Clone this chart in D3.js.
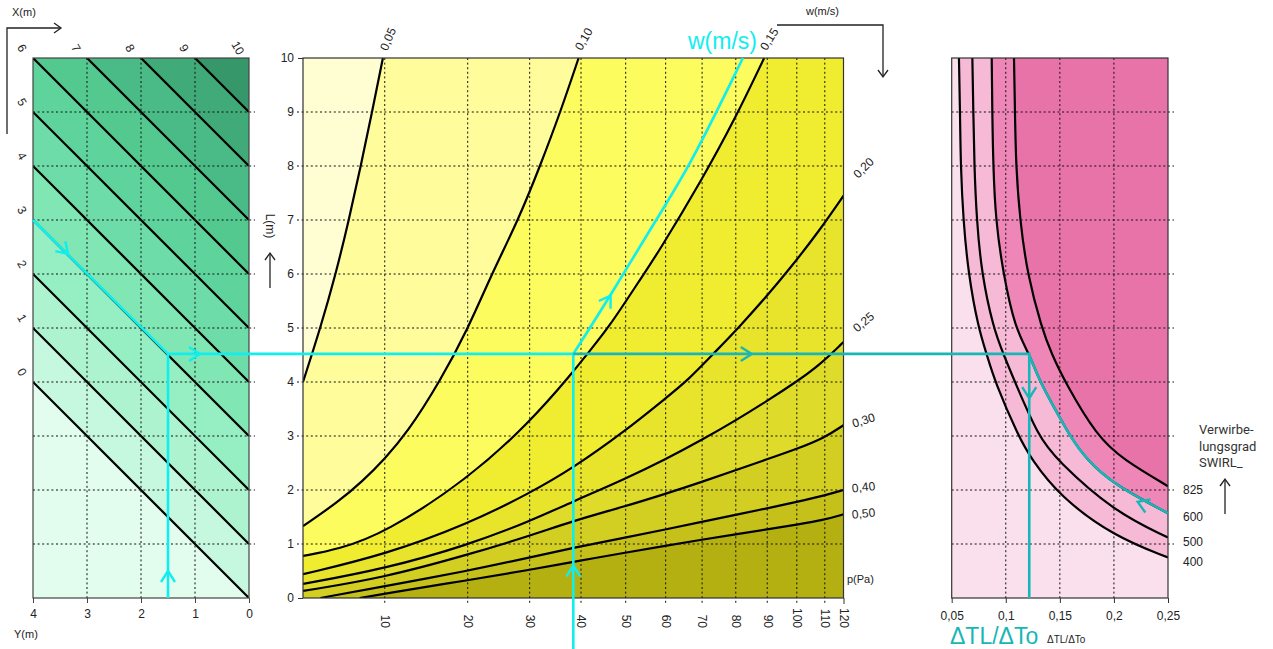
<!DOCTYPE html>
<html><head><meta charset="utf-8">
<script src="https://cdn.jsdelivr.net/npm/d3@7"></script>
<style>
body{margin:0;background:#fff}
text{font-family:"Liberation Sans",Arial,sans-serif;fill:#222}
</style>
</head><body>
<svg id="c" width="1273" height="649"></svg>
<script>
// ---------------- DATA ----------------
// left nomogram: diagonal lines X(m), with L = X + Y
const xLineValues = [0,1,2,3,4,5,6,7,8,9,10];
const xLineLabels = ["0","1","2","3","4","5","6","7","8","9","10"];
const yTicks = [4,3,2,1,0];
const lTicks = [0,1,2,3,4,5,6,7,8,9,10];
// middle nomogram: p(Pa) axis
const pTicks = [10,20,30,40,50,60,70,80,90,100,110,120];
// velocity curves w (m/s): [p, L] points
const wLabels = ["0,05","0,10","0,15","0,20","0,25","0,30","0,40","0,50"];
const w005 = [[3.7,4.0],[4.76,5],[5.82,6],[6.82,7],[7.8,8],[8.8,9],[9.82,10]];
const w010 = [[3.7,1.33],[6,1.78],[8,2.17],[10,2.58],[12.3,3.05],[16.2,4],[20.1,5],[23.6,6],[28,7],[31.9,8],[35.8,9],[39.5,10]];
const w015 = [[3.7,0.78],[6,0.9],[10,1.2],[20,2.2],[30,3.25],[38.4,4.19],[41.3,4.52],[46,5],[53.5,5.9],[58.1,6.4],[70,7.75],[80,8.9],[89,10]];
const w020 = [[3.7,0.44],[10,0.8],[20,1.37],[30,1.94],[38.4,2.41],[50,3.1],[60,3.7],[66.1,4.04],[73.2,4.52],[80.8,5],[90,5.6],[97.6,6.1],[108,6.8],[120,7.45]];
const w025 = [[3.7,0.26],[10,0.54],[20,0.98],[30,1.42],[38.4,1.79],[50,2.21],[60,2.57],[70,2.93],[80,3.29],[90,3.65],[100,4.01],[108,4.31],[120,4.74]];
const w030 = [[3.7,0.13],[10,0.38],[20,0.8],[30,1.15],[38.4,1.43],[50,1.7],[60,1.93],[70,2.15],[80,2.37],[90,2.57],[100,2.76],[110,2.97],[120,3.2]];
const w040 = [[4.76,0],[10,0.22],[20,0.5],[30,0.75],[38.4,0.93],[50,1.12],[60,1.27],[70,1.41],[80,1.54],[90,1.66],[100,1.78],[110,1.9],[120,2.0]];
const w050 = [[7.7,0],[10,0.08],[20,0.33],[30,0.52],[38.4,0.67],[50,0.84],[60,0.97],[70,1.08],[80,1.18],[90,1.27],[100,1.36],[110,1.45],[120,1.55]];
// right nomogram: swirl curves [ΔTL/ΔTo, L]
const rTicks = [0.05,0.10,0.15,0.20,0.25];
const rTickLabels = ["0,05","0,1","0,15","0,2","0,25"];
const swirlLabels = ["400","500","600","825"];
const s400 = [[0.0567,10],[0.0577,9],[0.0583,8],[0.0607,7],[0.0654,6],[0.0746,5],[0.0823,4.52],[0.090,4],[0.1116,3],[0.124,2.56],[0.15,1.88],[0.2,1.14],[0.25,0.75]];
const s500 = [[0.0691,10],[0.070,9],[0.0709,8],[0.0731,7],[0.0777,6],[0.0885,5],[0.0977,4.52],[0.1085,4],[0.130,3],[0.147,2.56],[0.2,1.6],[0.25,1.12]];
const s600 = [[0.087,10],[0.0875,9],[0.0884,8],[0.0906,7],[0.0977,6],[0.1085,5],[0.1217,4.52],[0.1316,4],[0.1455,3.5],[0.1593,3],[0.1748,2.56],[0.2,2.1],[0.25,1.57]];
const s825 = [[0.1076,10],[0.1085,9],[0.1094,8],[0.1131,7],[0.1199,6],[0.1332,5],[0.1424,4.52],[0.1547,4],[0.184,3],[0.2086,2.56],[0.25,2.07]];
// worked example
const exX = 3, exY = 1.5, exL = 4.52, exP = 38.4, exR = 0.1217;
const exW = [[38.4,4.52],[46.7,5.63],[57.1,6.96],[66.6,8],[82.2,10]];

(function(){
// ---------------- STYLE ----------------
const greens = ["#e2fcee","#c6f7df","#aef3d0","#96efc3","#80e6b4","#6edca8","#5fd39c","#53c990","#4abb86","#40aa79","#36976b"];
const yellows = ["#fffdd2","#fefc9b","#fdfc5e","#f0ed30","#e8e42c","#dedb2a","#d2ce22","#c6c11a","#b4b011"];
const pinks = ["#f9e0ec","#f6b9d6","#f6b9d6","#ee86b8","#e873a8"];
const labelAng = [-67,-60,-58,-45,-40,-18,-6,-6];
const labelDY  = [0,0,0,-28,-20,-5,-3,-1];
const CYAN = "#10eeee", TEAL = "#18b6b6";

const svg = d3.select("#c");
const Ls = d3.scaleLinear().domain([0,10]).range([598,58]);
const Ys = d3.scaleLinear().domain([4,0]).range([33,249]);
const Ps = d3.scalePow().exponent(0.45).domain([3.7,110,120]).range([303,824.8,843.5]);
const Rs = d3.scaleLinear().domain([0.05,0.25]).range([951.7,1168]);
const T0 = Ls(10), B0 = Ls(0);
const P0 = Ps.domain()[0], P1 = 120;

const defs = svg.append("defs");
function clip(id, x0, x1){
  defs.append("clipPath").attr("id",id).append("rect")
    .attr("x",x0).attr("y",T0).attr("width",x1-x0).attr("height",B0-T0);
}
clip("cl", Ys(4), Ys(0)); clip("cm", Ps(P0), Ps(P1)); clip("cr", Rs(0.05), Rs(0.25));
clip("ct", Rs(exR), Rs(0.25)+2);
function chevron(g, x, y, ang, col, w, len, half){
  g.append("path").attr("d",`M${-len},${-half}L0,0L${-len},${half}`)
   .attr("transform",`translate(${x},${y}) rotate(${ang})`)
   .attr("fill","none").attr("stroke",col).attr("stroke-width",w);
}
const dash = "2,2.6";

// ============ LEFT PANEL ============
const gl = svg.append("g").attr("clip-path","url(#cl)");
gl.append("rect").attr("x",Ys(4)).attr("y",T0).attr("width",Ys(0)-Ys(4)).attr("height",B0-T0).attr("fill",greens[0]);
xLineValues.slice(0,10).forEach((X,i)=>{
  const poly = [[-50,X-50],[50,X+50],[50,200],[-50,200]].map(d=>[Ys(d[0]),Ls(d[1])]);
  gl.append("path").attr("d","M"+poly.join("L")+"Z").attr("fill",greens[i+1]);
});
[3,2,1].forEach(y=>svg.append("line").attr("x1",Ys(y)).attr("x2",Ys(y)).attr("y1",T0).attr("y2",B0)
  .attr("stroke","#111").attr("stroke-width",1).attr("stroke-dasharray",dash));
lTicks.slice(1,10).forEach(l=>svg.append("line").attr("x1",Ys(4)).attr("x2",Ys(0)+6).attr("y1",Ls(l)).attr("y2",Ls(l))
  .attr("stroke","#111").attr("stroke-width",1).attr("stroke-dasharray",dash));
xLineValues.forEach(X=>{
  gl.append("line").attr("x1",Ys(4)).attr("y1",Ls(X+4)).attr("x2",Ys(0)).attr("y2",Ls(X))
    .attr("stroke","#000").attr("stroke-width",2.2);
});
svg.append("rect").attr("x",Ys(4)).attr("y",T0).attr("width",Ys(0)-Ys(4)).attr("height",B0-T0)
  .attr("fill","none").attr("stroke","#444").attr("stroke-width",1.2);
const axY = d3.axisBottom(Ys).tickValues(yTicks).tickSize(5).tickPadding(6).tickFormat(d3.format("d"));
const gAY = svg.append("g").attr("transform",`translate(0,${B0})`).call(axY);
gAY.select(".domain").remove();
gAY.selectAll("line").attr("stroke","#444");
gAY.selectAll("text").attr("font-size",12).attr("fill","#222").style("font-family","Liberation Sans, Arial");
xLineValues.forEach((X,i)=>{
  const px = X<=6 ? Ys(4) : Ys(10-X);
  const py = X<=6 ? Ls(X+4) : Ls(10);
  svg.append("text").attr("transform",`translate(${px-11},${py-10}) rotate(60)`)
    .attr("text-anchor","middle").attr("dy","0.35em").attr("font-size",12).text(xLineLabels[i]);
});
svg.append("text").attr("x",12).attr("y",16).attr("font-size",11).text("X(m)");
svg.append("text").attr("x",14).attr("y",638).attr("font-size",11).text("Y(m)");
svg.append("path").attr("d","M7,134V28H60").attr("fill","none").attr("stroke","#222").attr("stroke-width",1.3);
chevron(svg,61,28,0,"#222",1.3,7,5);

// ============ MIDDLE PANEL ============
const gm = svg.append("g").attr("clip-path","url(#cm)");
gm.append("rect").attr("x",Ps(P0)).attr("y",T0).attr("width",Ps(P1)-Ps(P0)).attr("height",B0-T0).attr("fill",yellows[0]);
const wCurves = [w005,w010,w015,w020,w025,w030,w040,w050];
const lineM = d3.line().x(d=>Ps(d[0])).y(d=>Ls(d[1])).curve(d3.curveBasis);
wCurves.forEach((c,i)=>{
  const s = c[0], e = c[c.length-1];
  const close = [[Ps(P1)+200,Ls(e[1])],[Ps(P1)+200,B0+50],[Ps(s[0]),B0+50]];
  gm.append("path").attr("d",lineM(c)+"L"+close.join("L")+"Z").attr("fill",yellows[i+1]);
});
pTicks.slice(0,11).forEach(p=>svg.append("line").attr("x1",Ps(p)).attr("x2",Ps(p)).attr("y1",T0).attr("y2",B0+6)
  .attr("stroke","#111").attr("stroke-width",1).attr("stroke-dasharray",dash));
lTicks.slice(1,10).forEach(l=>svg.append("line").attr("x1",Ps(P0)-6).attr("x2",Ps(P1)).attr("y1",Ls(l)).attr("y2",Ls(l))
  .attr("stroke","#111").attr("stroke-width",1).attr("stroke-dasharray",dash));
wCurves.forEach(c=>gm.append("path").attr("d",lineM(c)).attr("fill","none").attr("stroke","#000").attr("stroke-width",2.2));
svg.append("rect").attr("x",Ps(P0)).attr("y",T0).attr("width",Ps(P1)-Ps(P0)).attr("height",B0-T0)
  .attr("fill","none").attr("stroke","#333").attr("stroke-width",1.2);
const axL = d3.axisLeft(Ls).tickValues(lTicks).tickSize(5).tickPadding(4).tickFormat(d3.format("d"));
const gAL = svg.append("g").attr("transform",`translate(${Ps(P0)},0)`).call(axL);
gAL.select(".domain").remove();
gAL.selectAll("line").attr("stroke",(d)=> (d===0||d===10)?"#333":"none");
gAL.selectAll("text").attr("font-size",12).attr("fill","#222").style("font-family","Liberation Sans, Arial");
const axP = d3.axisBottom(Ps).tickValues(pTicks).tickSize(6).tickFormat(d3.format("d"));
const gAP = svg.append("g").attr("transform",`translate(0,${B0})`).call(axP);
gAP.select(".domain").remove();
gAP.selectAll("line").attr("stroke",(d)=> d===120?"#333":"none");
gAP.selectAll("text").attr("font-size",12).attr("fill","#222").style("font-family","Liberation Sans, Arial")
  .attr("text-anchor","end").attr("y",0).attr("dy","0.35em").attr("transform","translate(0,30) rotate(90)");
svg.append("text").attr("x",847).attr("y",583).attr("font-size",11).text("p(Pa)");
svg.append("text").attr("transform","translate(266,226) rotate(90)").attr("text-anchor","middle").attr("font-size",12).text("L(m)");
svg.append("line").attr("x1",270).attr("x2",270).attr("y1",288).attr("y2",254).attr("stroke","#222").attr("stroke-width",1.3);
chevron(svg,270,253,-90,"#222",1.3,7,5);
wCurves.forEach((c,i)=>{
  const e = c[c.length-1];
  const x = Ps(e[0]), y = Ls(e[1]);
  let cx, cy;
  if (e[1] >= 10) { cx = x+5; cy = y-19; }
  else { cx = Ps(P1)+20; cy = y+labelDY[i]; }
  svg.append("text").attr("transform",`translate(${cx},${cy}) rotate(${labelAng[i]})`)
    .attr("text-anchor","middle").attr("dy","0.35em").attr("font-size",12).text(wLabels[i]);
});
svg.append("text").attr("x",806).attr("y",15).attr("font-size",11).text("w(m/s)");
svg.append("path").attr("d","M777,25H883V76").attr("fill","none").attr("stroke","#222").attr("stroke-width",1.3);
chevron(svg,883,77,90,"#222",1.3,7,5);
svg.append("text").attr("x",688).attr("y",49).attr("font-size",23).style("fill",CYAN).text("w(m/s)");

// ============ RIGHT PANEL ============
const gr = svg.append("g").attr("clip-path","url(#cr)");
gr.append("rect").attr("x",Rs(0.05)).attr("y",T0).attr("width",Rs(0.25)-Rs(0.05)).attr("height",B0-T0).attr("fill",pinks[0]);
const sCurves = [s400,s500,s600,s825];
const lineR = d3.line().x(d=>Rs(d[0])).y(d=>Ls(d[1])).curve(d3.curveBasis);
sCurves.forEach((c,i)=>{
  const s = c[0], e = c[c.length-1];
  const close = [[Rs(0.25)+100,Ls(e[1])],[Rs(0.25)+100,T0-50],[Rs(s[0]),T0-50]];
  gr.append("path").attr("d",lineR(c)+"L"+close.join("L")+"Z").attr("fill",pinks[i+1]);
});
[0.10,0.15,0.20].forEach(r=>svg.append("line").attr("x1",Rs(r)).attr("x2",Rs(r)).attr("y1",T0).attr("y2",B0)
  .attr("stroke","#111").attr("stroke-width",1).attr("stroke-dasharray",dash));
lTicks.slice(1,10).forEach(l=>svg.append("line").attr("x1",Rs(0.05)).attr("x2",Rs(0.25)+6).attr("y1",Ls(l)).attr("y2",Ls(l))
  .attr("stroke","#111").attr("stroke-width",1).attr("stroke-dasharray",dash));
sCurves.forEach(c=>gr.append("path").attr("d",lineR(c)).attr("fill","none").attr("stroke","#000").attr("stroke-width",2.2));
svg.append("rect").attr("x",Rs(0.05)).attr("y",T0).attr("width",Rs(0.25)-Rs(0.05)).attr("height",B0-T0)
  .attr("fill","none").attr("stroke","#333").attr("stroke-width",1.2);
const axR = d3.axisBottom(Rs).tickValues(rTicks).tickSize(5).tickPadding(8).tickFormat((d,i)=>rTickLabels[i]);
const gAR = svg.append("g").attr("transform",`translate(0,${B0})`).call(axR);
gAR.select(".domain").remove();
gAR.selectAll("line").attr("stroke","#333");
gAR.selectAll("text").attr("font-size",12).attr("fill","#222").style("font-family","Liberation Sans, Arial");
sCurves.forEach((c,i)=>{
  const e = c[c.length-1];
  svg.append("text").attr("x",Rs(0.25)+15).attr("y",Ls(e[1])+8).attr("font-size",12).text(swirlLabels[i]);
});
["Verwirbe-","lungsgrad","SWIRL_"].forEach((t,i)=>svg.append("text").attr("x",1199).attr("y",434+i*16.5)
  .attr("font-size",13).style("font-family","Roboto, sans-serif").style("fill","#333").text(t));
svg.append("line").attr("x1",1225).attr("x2",1225).attr("y1",514).attr("y2",480).attr("stroke","#222").attr("stroke-width",1.3);
chevron(svg,1225,479,-90,"#222",1.3,7,5);
svg.append("text").attr("x",950).attr("y",644).attr("font-size",23).style("fill",TEAL).text("ΔTL/ΔTo");
svg.append("text").attr("x",1047).attr("y",643).attr("font-size",10).text("ΔTL/ΔTo");

// ============ EXAMPLE PATH ============
const ex = svg.append("g").attr("fill","none").attr("stroke-width",2.6);
const jx = Ys(exY), jy = Ls(exL), mx = Ps(exP), rx = Rs(exR);
ex.append("path").attr("d",`M${Ys(4)},${Ls(exX+4)}L${jx},${jy}L${mx},${jy}`).attr("stroke",CYAN);
ex.append("path").attr("d",`M${jx},${B0}V${jy}`).attr("stroke",CYAN);
ex.append("path").attr("d",`M${mx},649V${jy}`).attr("stroke",CYAN);
ex.append("path").attr("d",lineM(exW)).attr("stroke",CYAN);
ex.append("path").attr("d",`M${mx},${jy}H${rx}V${B0}`).attr("stroke",TEAL);
ex.append("path").attr("d",lineR(s600)).attr("stroke",TEAL).attr("clip-path","url(#ct)");
chevron(ex, jx, Ls(0.5), -90, CYAN, 2.4, 11, 7);
chevron(ex, jx+32, jy, 0, CYAN, 2.4, 11, 7);
chevron(ex, Ys(3.35), Ls(6.37), 45, CYAN, 2.4, 11, 7);
chevron(ex, mx, Ls(0.6), -90, CYAN, 2.4, 11, 7);
chevron(ex, Ps(46.5), Ls(5.6), -57, CYAN, 2.4, 11, 7);
chevron(ex, Ps(85), jy, 0, TEAL, 2.4, 11, 7);
chevron(ex, rx, Ls(3.7), 90, TEAL, 2.4, 11, 7);
chevron(ex, Rs(0.222), Ls(1.78), -158, TEAL, 2.4, 11, 7);
})();
</script>
</body></html>
